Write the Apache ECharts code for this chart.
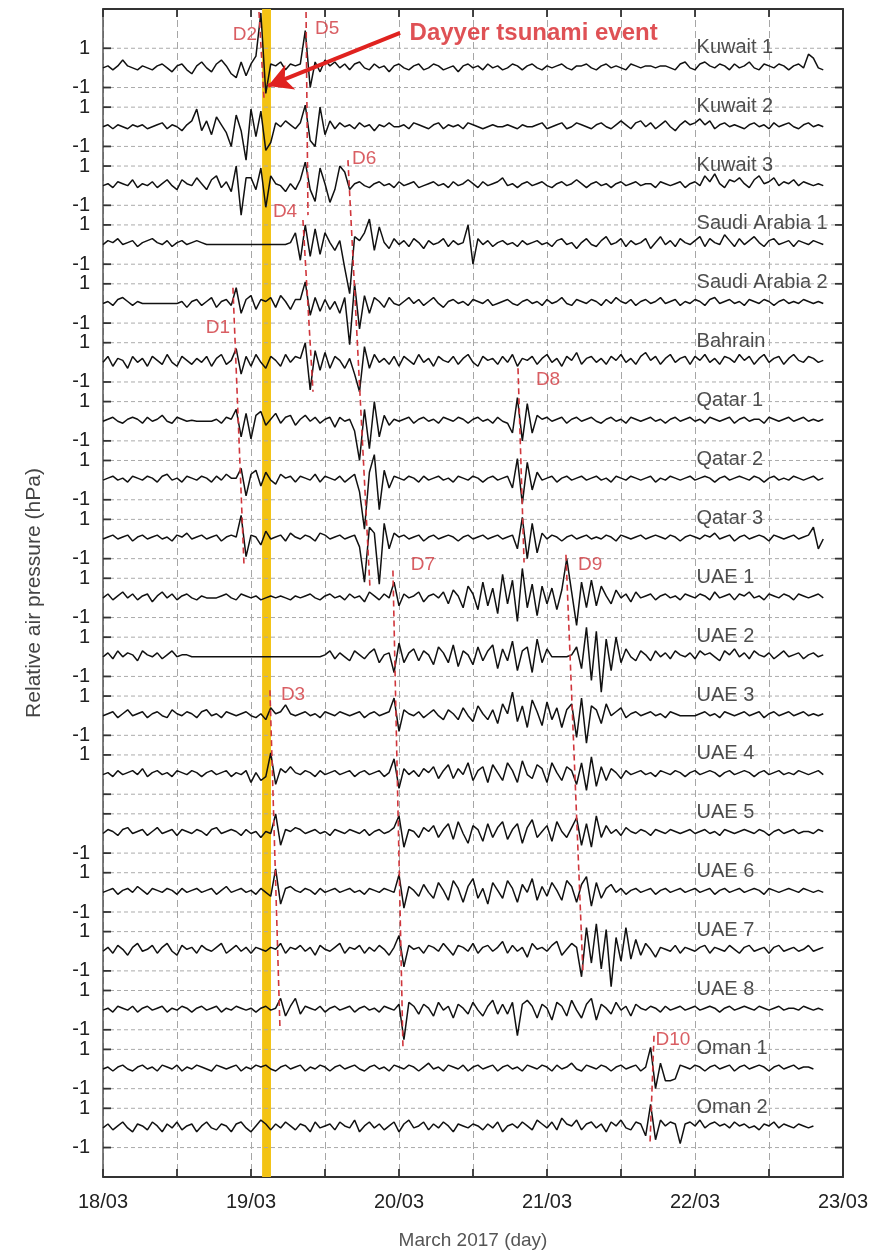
<!DOCTYPE html>
<html>
<head>
<meta charset="utf-8">
<title>Relative air pressure, March 2017</title>
<script src="https://cdn.jsdelivr.net/npm/echarts@6/dist/echarts.min.js"></script>
<style>
  html, body { margin: 0; padding: 0; background: #ffffff; }
  #chart { width: 894px; height: 1252px; }
</style>
</head>
<body>
<div id="chart"></div>
<script>
// Sampling of every trace: one value every 48 minutes, starting 18/03 00:00 (axis unit = days).
const SAMPLE_STEP_DAYS = 1 / 30;
// Vertical distance between trace baselines, in hPa.
const STATION_SPACING = 3;

const DAY_TICK_LABELS = ['18/03', '19/03', '20/03', '21/03', '22/03', '23/03'];

const STATIONS = ['Kuwait 1', 'Kuwait 2', 'Kuwait 3', 'Saudi Arabia 1', 'Saudi Arabia 2', 'Bahrain',
  'Qatar 1', 'Qatar 2', 'Qatar 3', 'UAE 1', 'UAE 2', 'UAE 3', 'UAE 4', 'UAE 5', 'UAE 6', 'UAE 7',
  'UAE 8', 'Oman 1', 'Oman 2'];

// Tick labels written next to the +1 / -1 hPa lines of each station.
const STATION_TICK_LABELS = [['1', '-1'], ['1', '-1'], ['1', '-1'], ['1', '-1'], ['1', '-1'], ['1', '-1'],
  ['1', '-1'], ['1', '-1'], ['1', '-1'], ['1', '-1'], ['1', '-1'], ['1', '-1'], ['1', ''], ['', '-1'],
  ['1', '-1'], ['1', '-1'], ['1', '-1'], ['1', '-1'], ['1', '-1']];

// Relative air pressure (hPa) per station.
const KUWAIT_1 = [0,0.1,-0.1,0.1,0.4,0.1,0,-0.1,0.1,0, -0.1,0.1,0.2,0,-0.2,0.1,0.2,-0.1,-0.3,0.1,
  0.3,0,-0.2,0.2,0.4,0.1,-0.3,-0.5,0.3,-0.4, 0.2,0.6,2.8,-1.3,0.2,0.1,0.3,-0.1,0.2,0.1,
  0.2,1.9,-1.0,0.3,-0.2,0.4,0.1,0.3,0,0.2, -0.1,0.2,0.3,0,-0.1,0.2,0,0.1,-0.2,0.1,
  0.2,0,-0.1,0.1,0.2,-0.1,0,0.2,0.1,-0.1, 0,0.1,-0.2,0.1,0.2,0,0.1,-0.1,0.2,0,
  0.1,-0.1,0,0.2,0.1,-0.1,0.1,0.2,0,-0.1, 0.1,0,0.1,0.2,0,-0.1,0.1,0.1,0.2,0,
  -0.1,0.1,0.2,0,0.1,0,-0.1,0.2,0.1,0, 0.1,0.1,0,0.1,0.1,0,-0.1,0.2,0.3,0,
  -0.1,0.2,0.3,0.1,0,0.2,0.1,-0.1,0.2,0, 0.1,0.3,0,-0.1,0.2,0.1,0,0.2,0.1,-0.1,
  0.1,0.2,0,0.7,0.5,0,-0.1];
const KUWAIT_2 = [0,0.1,-0.1,0.1,0,-0.1,0.1,0,0.1,-0.1, 0,0.1,0.2,-0.1,0.1,0,-0.2,0.1,0.3,0.9,
  -0.2,0.3,-0.4,0.5,0.1,-0.3,-1.0,0.6,-0.2,-1.7, 0.9,-0.5,0.8,-1.2,-0.8,0.2,0,0.3,0.1,-0.1,
  0.2,1.1,-0.7,-1.0,1.0,-0.4,0.3,-0.1,0.2,0, 0.1,-0.1,0.2,0,0.1,-0.2,0.1,0,0.2,0,
  0,0.1,-0.1,0.2,0.1,0,-0.1,0.1,0.2,-0.1, 0.1,0,0.1,-0.1,0.2,0.1,0,-0.1,0,0.1,
  0,0,0.1,0,-0.1,0.1,0,0,0.1,0.2, -0.1,0,0.1,0.2,-0.1,0,0.2,0.1,0,-0.1,
  0.1,0.2,0,-0.1,0.1,0.3,0.1,-0.1,0.2,0.3, 0,0.2,-0.1,0.1,0.3,0,-0.2,0.1,0.3,0.1,
  0.2,0.4,0.1,0.3,-0.1,0.1,0.2,0,0.1,0, -0.1,0.1,0.2,0,0.1,-0.1,0.2,0,0.1,0.2,
  0,-0.1,0.1,0.2,0,0.1,0];
const KUWAIT_3 = [0,0.1,-0.1,0.2,0.1,0,0.3,-0.1,0.1,0, 0.2,-0.1,0.1,0.3,0,-0.2,0.3,0.1,0,0.4,
  0.1,-0.2,0.3,0.5,-0.1,0.2,-0.3,1.0,-1.5,0.4, 0.4,-0.2,0.9,-1.1,0.5,0.1,0,-0.3,0.1,-0.2,
  0.3,1.2,-0.2,-0.8,0.9,0.1,-0.85,-0.2,1.0,0.7, -0.2,0.1,0.2,0,-0.1,0.1,0.2,0,0.1,-0.1,
  0.2,0,0.1,0.2,-0.1,0,0.1,0.2,0,0.1, -0.1,0.2,0,0.1,0.3,0.1,-0.1,0.2,0,0.1,
  0.2,0.4,0,0.1,-0.1,0.1,0.2,0,0.1,0.2, 0,-0.1,0.1,0.2,0,0.1,0.3,0.1,-0.1,0.1,
  0.2,0,0.1,-0.1,0.1,0.2,0,0.1,0.2,0, 0.1,0.1,-0.1,0.2,0.1,0,0.1,0.2,-0.1,0.1,
  0.2,0,0.5,0.2,0.6,0.1,-0.1,0.3,0.2,0.4, 0.1,-0.1,0.3,0.5,0.1,0.2,0.4,0,0.2,0.1,
  0.3,0,0.2,0.1,0,0.1,0];
const SAUDI_ARABIA_1 = [0,0.2,0.1,0.3,0,0.1,0.2,-0.1,0.1,0.2, 0.3,0.1,0,0.2,-0.1,0.1,0.2,0,0.1,0.2,
  0.1,0,0,0,0,0,0,0,0,0, 0,0,0,0,0,0,0,0,0.1,0.6,
  -0.8,1.0,-0.6,0.8,-0.5,0.6,0.1,-0.3,0.2,-1.2, -2.5,0.4,0.2,0.6,1.3,-0.3,0.9,0.1,-0.2,0.3,
  0,0.2,-0.1,0.3,0.1,-0.2,0.2,0,0.1,0.3, -0.1,0.2,0,0.1,1.0,-1.0,0.3,0,0.2,-0.1,
  0.1,0.2,0,0.1,-0.1,0.2,0,0.1,0.2,0, 0.1,-0.1,0.2,0.3,0,0.1,-0.2,0.1,0.3,0,
  -0.1,0.2,0.4,0,0.1,0.3,-0.1,0.2,0,0.1, 0.3,-0.2,0.1,0.4,0,0.2,-0.1,0.3,0.1,0,
  0.2,0.4,-0.1,0.3,0.1,0,0.5,0.2,-0.1,0.3, 0,0.2,0.4,0.1,-0.1,0.2,0.3,0,0.1,0.2,
  -0.1,0.2,0.1,0,0.2,0.1,0];
const SAUDI_ARABIA_2 = [0,0.1,-0.1,0.2,0.3,0.1,-0.1,0.1,0,0, 0,0,0,0,0,0,0.1,-0.2,0.1,0.2,
  -0.1,0.1,0.3,-0.2,0.1,0.2,-0.1,0.8,-0.5,0.2, 0.4,-0.3,0.2,0.1,0.3,-0.2,0.4,0.1,-0.3,0.2,
  0.2,1.1,-0.6,0.3,-0.4,0.2,-0.3,0.1,-0.5,0.3, -2.1,1.0,-1.3,0.4,-0.5,0.3,0.1,-0.2,0.3,0,
  -0.1,0.1,0.3,0,0.2,-0.1,0.1,0.3,0,-0.2, 0.1,0.2,0,0.1,-0.1,0.2,0.1,0,0.2,-0.1,
  0,0.1,0.2,0,-0.1,0.1,0.2,0,0.1,-0.1, 0.2,0,0.1,0.3,0,-0.1,0.2,0.1,0,0.2,
  0.1,-0.1,0.2,0,0.3,0.1,0,0.2,-0.1,0.1, 0.2,0,0.1,0.3,0,0.1,0.2,-0.1,0.1,0,
  0.2,0.1,-0.1,0.2,0.3,0,0.1,0.2,0,0.1, -0.1,0.2,0.1,0,0.2,0.1,-0.1,0.1,0.2,0,
  0.1,0,0.2,0.1,0,0.1,0];
const BAHRAIN = [0,0.3,-0.2,0.2,0.1,-0.3,0.3,0,0.2,-0.2, 0.3,0.1,-0.1,0.4,0,-0.2,0.3,0.1,-0.1,0.2,
  0,0.3,-0.2,0.2,0.4,-0.1,0.1,0.7,-0.6,0.3, -0.2,0.4,0,-0.3,0.3,0.1,-0.2,0.4,0,0.3,
  0.2,1.0,-1.4,0.6,-0.4,0.5,-0.3,0.3,0.1,-0.3, 0.2,-0.6,-1.5,0.8,-0.3,0.4,0,0.2,-0.1,0.3,
  -0.2,0.3,0.1,-0.1,0.4,0,0.2,-0.2,0.3,0.1, 0,0.3,-0.1,0.2,0.4,0,-0.2,0.3,0.1,0.2,
  -0.1,0.3,0,0.4,-0.2,0.2,0.1,0.3,-0.1,0.2, 0.4,0,0.2,-0.2,0.3,0.1,0.5,-0.1,0.2,0.3,
  0,0.2,-0.1,0.3,0.1,0.4,0,0.2,-0.1,0.3, 0.5,0.1,0.3,-0.1,0.2,0.4,0,0.2,0.3,-0.1,
  0.3,0.1,0.4,0,0.2,-0.1,0.3,0.2,0,0.4, 0.1,0.3,-0.1,0.2,0.4,0,0.2,0.3,-0.1,0.2,
  0.4,0.1,0,0.3,0.2,0,0.1];
const QATAR_1 = [0,0.1,0.2,0,-0.1,0.1,0.2,0.1,-0.1,0.2, 0,0.1,0.3,0,-0.1,0.2,0.1,0,0.05,0,
  0,0,0,0.1,-0.1,0.2,0.1,0.6,-0.8,0.4, -0.9,0.3,0.5,-0.2,0.1,0.4,-0.1,0.2,0.3,-0.2,
  0.1,0.3,0,0.2,-0.1,0.1,0.2,-0.3,0.2,0, 0.1,-0.5,-2.0,0.6,-1.4,1.0,-0.8,0.3,-0.2,0.1,
  0,0.1,0.2,-0.1,0.1,0.2,0,0.1,-0.1,0.2, 0.1,0,0.2,0.1,-0.1,0.1,0.2,0,0.1,-0.1,
  0.2,0,-0.1,-0.6,1.2,-1.0,0.9,-0.6,0.3,0.1, 0.2,0,0.1,0.2,-0.1,0.1,0.2,0,0.1,0.2,
  0,-0.1,0.1,0.2,0,0.1,-0.1,0.2,0.1,0, 0.1,0.2,0,0.1,-0.1,0.1,0.2,0,0.1,0.2,
  0,0.1,-0.1,0.2,0.1,0,0.1,0.2,-0.1,0.1, 0.2,0,0.1,0.1,-0.1,0.2,0.1,0,0.1,0.2,
  0,0.1,0.2,0,0.1,0,0.1];
const QATAR_2 = [0,0.1,0.2,0,0.1,-0.1,0.2,0.1,0,0.2, 0.1,-0.1,0.2,0.3,0,0.1,-0.1,0.2,0.1,0,
  0.2,0.1,-0.1,0.2,0,0.3,0.1,0.1,0.6,-0.8, 0.3,0.5,-0.3,0.4,0,-0.2,0.3,0.1,0.2,-0.1,
  0.2,0.1,0,0.3,-0.1,0.2,0.1,0,0.2,-0.1, 0.1,0.3,-0.6,-2.5,0.4,1.3,-1.5,0.5,-0.4,0.2,
  0.1,0,0.2,0.1,-0.1,0.2,0,0.1,0.2,0, 0.1,-0.1,0.2,0.1,0,0.2,0.1,-0.1,0.1,0.2,
  0,0.1,0.2,-0.4,1.1,-1.2,0.9,-0.5,0.4,0, 0.1,0.2,-0.1,0.1,0.2,0,0.1,0.2,0,0.1,
  0.2,0,0.1,-0.1,0.2,0.1,0,0.2,0.1,0, 0.1,0.2,-0.1,0.1,0,0.2,0.1,0,0.1,0.2,
  0,0.1,0.2,0.1,-0.1,0.1,0.2,0,0.1,0.2, 0.1,0,0.2,0.1,-0.1,0.1,0.2,0,0.1,0,
  0.2,0.1,0,0.1,0.2,0,0.1];
const QATAR_3 = [0,0.1,0.2,0,0.1,0.2,-0.1,0.1,0.2,0, 0.1,0.2,0,0.1,-0.1,0.2,0.1,0.3,0,0.1,
  0.2,0,0.1,0.2,-0.1,0.1,0.2,0.1,1.2,-0.9, 0.2,0.1,-0.3,0.4,0,0.1,0.2,-0.1,0.3,0.1,
  0,0.2,0.1,-0.1,0.3,0.2,0,0.1,0.2,0, 0.1,0.2,-0.4,-2.2,0.6,0.3,-2.3,0.8,-0.5,0.3,
  0.1,0.2,0,0.1,0.2,-0.1,0.1,0.2,0,0.1, 0.2,0.1,-0.1,0.1,0.2,0,0.1,0.2,0,0.1,
  0.2,0,0.1,0.2,-0.5,1.1,-1.0,0.8,-0.7,0.3, 0,0.2,0.1,-0.1,0.1,0.2,0,0.1,0.2,0,
  0.1,0,0.2,0.1,-0.1,0.2,0.1,0,0.1,0.2, 0,0.1,0.2,0.1,0,0.2,0.1,-0.1,0.1,0.2,
  0.1,0,0.2,0.1,0.3,0,0.1,0.2,-0.1,0.1, 0.2,0,0.1,0.2,0.1,-0.1,0.2,0.1,0,0.1,
  0.2,0,0.1,0.2,0.6,-0.5,0];
const UAE_1 = [0,0.2,-0.1,0.1,0.3,0,0.2,-0.1,0.1,0.2, -0.2,0.1,0.3,0,0.2,-0.1,0.1,0.2,0,-0.1,
  0.1,0,0,0,0.1,0.2,0,-0.1,0.2,0.1, 0,0.1,-0.1,0,0.1,0,0.1,0,-0.1,0.1,
  0,0.1,0.2,0,-0.1,0.1,0.2,0,0.1,-0.1, 0.2,0,0.1,-0.2,0.3,0.1,-0.1,0.2,0,0.8,
  -0.4,0.2,0,0.1,0.3,-0.2,0.1,0.2,0,0.3, -0.3,0.4,0.1,-0.5,0.6,0.2,-0.6,0.8,-0.4,0.5,
  -0.8,1.2,-0.3,0.9,-1.2,1.5,-0.5,0.7,-0.9,0.6, -0.3,0.5,-0.6,0.4,2.0,0.3,-1.4,0.8,-0.5,0.9,
  -0.4,0.6,0.1,-0.3,0.4,0,0.2,-0.2,0.3,0, 0.1,0.2,-0.1,0.1,0.2,0,0.1,-0.1,0.2,0.1,
  0,0.2,0.1,-0.1,0.3,0,0.1,0.2,-0.1,0.2, 0.1,0.3,0,0.1,-0.1,0.2,0.1,0,0.2,0.1,
  -0.1,0.2,0.1,0,0.1,0.2,0];
const UAE_2 = [0,0.2,-0.1,0.3,0,0.2,0.1,-0.2,0.3,0.1, 0,0.2,-0.1,0.1,0.3,0,0.1,0.1,0,0,
  0,0,0,0,0,0,0,0,0,0, 0,0,0,0,0,0,0,0,0,0,
  0,0,0,0,0,0.1,0.3,-0.1,0.2,0, -0.2,0.3,0.1,-0.1,0.2,0.4,-0.3,0.1,0.2,-0.8,
  0.7,-0.3,0.2,0.4,-0.2,0.3,0.1,-0.4,0.5,0.2, -0.3,0.6,-0.5,0.3,0.1,-0.4,0.5,-0.2,0.3,0.6,
  -0.6,0.4,-0.2,0.8,-0.7,0.3,0.5,-0.8,0.9,-0.3, 0.4,0,0,0,0,0.1,0.5,-0.6,1.5,-1.2,
  1.3,-1.8,0.9,-0.7,1.0,-0.3,0.4,0,-0.2,0.3, 0.1,-0.2,0.3,0,0.2,-0.1,0.3,0.1,0,0.2,
  -0.1,0.3,0.1,0.2,0,-0.2,0.3,0.1,0.4,0, 0.2,-0.1,0.3,0.1,0,0.2,-0.1,0.1,0.3,0,
  0.1,0.2,-0.1,0.1,0.2,0,0.1];
const UAE_3 = [0,0.1,0.2,-0.1,0.1,0.3,0,0.1,0.2,-0.1, 0.1,0.2,0,-0.1,0.3,0.1,0,0.2,0.1,-0.1,
  0.2,0.3,0,0.1,-0.1,0.2,0.1,0,0.1,0.2, 0,-0.1,0.1,-0.2,0.4,0.1,0.2,0.55,0.1,0,
  0.1,0.2,0,0.1,-0.1,0.2,0.1,0,0.2,0.1, 0,0.1,0.2,-0.1,0.1,0.2,0,0.1,0.2,0.9,
  -0.8,0.3,0.1,0,0.2,-0.1,0.1,0.3,0,-0.2, 0.3,0.1,-0.2,0.4,0,-0.3,0.5,0.1,-0.2,0.3,
  -0.4,0.6,0.1,1.2,-0.3,0.5,-0.6,0.8,0.2,-0.5, 0.7,-0.2,0.4,-0.6,0.3,0.6,-1.1,0.9,-1.4,0.5,
  0.3,-0.4,0.6,0,0.2,0.4,-0.1,0.1,0.2,0, 0.1,0.2,0,0.1,-0.1,0.2,0.1,0,0,0,
  0,0.1,0.2,0,0.1,-0.1,0.2,0.1,0,0.1, 0.2,0,0.1,0.2,-0.1,0.1,0.2,0,0.1,0.2,
  0,0.1,0.2,0,0.1,0,0.1];
const UAE_4 = [0,0.1,-0.1,0.2,0,0.1,0.2,0,0.3,-0.1, 0.1,0.2,0,0.1,-0.1,0.2,0.1,0,0.2,0.1,
  -0.1,0.1,0.2,0,0.1,0.2,-0.1,0.1,0,0.2, -0.4,0.1,-0.3,-0.1,1.1,-0.5,0.3,0.1,0.4,0.1,
  0,0.2,0.1,-0.1,0.2,0,0.1,0.2,0,0.1, 0.2,-0.1,0.1,0.2,0,0.1,0.2,-0.1,0.1,0.8,
  -0.7,0.3,0,0.2,-0.1,0.3,0.1,0.4,-0.2,0.2, 0.5,-0.2,0.3,0,0.6,-0.3,0.2,0.4,-0.4,0.5,
  0.1,-0.3,0.6,0.2,-0.4,0.7,0,-0.2,0.5,0.3, -0.4,0.6,0.1,-0.3,0.4,0.2,-0.5,0.6,-0.8,0.9,
  -0.6,0.4,-0.3,0.3,0.1,-0.2,0.2,0,0.1,0.2, 0,0.1,-0.1,0.2,0.1,0,0.2,0.1,-0.1,0.1,
  0.2,0,0.1,0.2,0.1,-0.1,0.1,0.2,0,0.1, 0.2,0.1,-0.1,0.1,0.2,0,0.1,0.2,0,0.1,
  0,0.2,0.1,0,0.1,0.2,0];
const UAE_5 = [0,0.2,0.1,-0.1,0.2,0.3,0,0.1,0.2,-0.1, 0.1,0.3,0,0.1,0.2,-0.1,0.2,0.1,0,0.2,
  0.1,-0.1,0.2,0.3,0,0.1,0.2,0.1,-0.1,0.2, 0,0.1,-0.2,0.1,0,1.0,-0.6,0.2,0.1,0.3,
  0.2,0,0.1,0.2,0,0.1,-0.1,0.2,0.1,0, 0.2,0.1,0,0.2,-0.1,0.1,0.2,0,0.1,0.3,
  0.9,-0.7,0.2,0.1,-0.2,0.3,0.1,0.4,-0.2,0.2, 0.5,-0.3,0.6,0,-0.5,0.4,0.2,-0.4,0.5,-0.2,
  0.3,0.6,-0.3,0.2,0.5,-0.5,0.3,0.7,-0.2,0.1, 0.4,-0.4,0.6,0.1,-0.2,0.3,0.8,-0.6,0.5,-0.7,
  0.9,-0.2,0.4,0,0.2,-0.1,0.3,0.1,0,0.2, 0.1,-0.1,0.2,0.1,0,0.2,0.1,0,0.1,0.2,
  0,0.1,0.2,0,0.1,-0.1,0.2,0.1,0,0.1, 0.2,0.1,0,0.2,0.1,-0.1,0.1,0.2,0,0.1,
  0.2,0,0.1,0.1,0,0.2,0.1];
const UAE_6 = [0,0.1,0.2,-0.1,0.1,0.2,0,0.3,0.1,-0.1, 0.2,0.1,0,0.2,0.1,-0.1,0.2,0,0.1,0.2,
  0,0.1,0.2,-0.1,0.1,0.3,0,0.1,0.2,0, 0.1,-0.1,0.2,0,-0.2,1.2,-0.6,0.2,0.3,0.1,
  0,0.2,0.1,-0.1,0.2,0,0.1,0.2,0,0.1, 0.2,0,0.1,-0.1,0.2,0.1,0,0.2,0.1,0,
  0.9,-0.8,0.3,0.1,-0.2,0.4,0,-0.3,0.5,0.1, -0.4,0.6,0.2,-0.5,0.3,0.7,-0.3,0.2,-0.6,0.5,
  0.1,-0.3,0.6,0.2,-0.5,0.4,0,0.7,-0.4,0.3, -0.2,0.5,0.1,-0.4,0.6,0.3,-0.5,0.4,0.8,-0.7,
  0.5,-0.3,0.2,0.4,0,0.2,-0.1,0.1,0.2,0, 0.1,0.2,-0.1,0.1,0.2,0,0.1,0.2,0,0.1,
  0.2,0,0.1,0.2,-0.1,0.1,0.2,0,0.1,0.2, 0,0.1,0.2,0.1,-0.1,0.2,0.1,0,0.1,0.2,
  0.1,0,0.2,0.1,0,0.1,0];
const UAE_7 = [0,0.2,-0.1,0.3,0.1,-0.2,0.2,0.4,0,0.1, 0.3,-0.1,0.2,0.4,0,-0.2,0.3,0.1,0.2,-0.1,
  0.3,0.1,0,0.2,0.4,-0.1,0.1,0.3,0,0.2, -0.1,0.2,0.1,0,0.2,0.1,0.4,-0.1,0.2,0.1,
  0.3,0,0.2,-0.2,0.3,0.1,0,0.2,0.4,-0.1, 0.2,0.1,0.3,-0.1,0.2,0,0.3,0.1,-0.2,0.2,
  0.8,-0.8,0.3,0.1,0.2,-0.1,0.3,0.2,0,0.4, 0.1,-0.2,0.3,0.2,0,0.4,-0.1,0.2,0.3,0,
  0.2,0.5,-0.1,0.3,0,0.2,-0.3,0.4,0.1,0.2, 0,0.3,0.5,-0.2,0.1,0.4,0.2,-1.3,1.2,-0.6,
  1.4,-0.9,1.1,-1.8,0.7,-0.5,1.2,-0.4,0.6,-0.2, 0.4,0.1,-0.3,0.2,0.1,0,0.3,-0.1,0.2,0.1,
  0,0.2,0.3,-0.1,0.2,0.1,0,0.3,0.1,-0.1, 0.2,0.3,0,0.1,0.2,-0.1,0.2,0.3,0,0.1,
  0.2,0,0.1,0.3,0,0.1,0.2];
const UAE_8 = [0,0.1,-0.1,0.2,0.1,0,0.2,-0.1,0.1,0.2, 0,0.1,0.2,-0.1,0.1,0,0.2,0.1,-0.1,0.1,
  0.2,0,0.1,0.2,-0.1,0.1,0,0.2,0.1,0, 0.1,-0.1,0.1,0.2,0,0.1,0.6,-0.3,0.2,0.6,
  -0.2,0.2,0.1,0,0.2,-0.1,0.1,0.2,0,0.1, 0.2,-0.1,0.1,0.2,0,0.1,-0.1,0.2,0.1,0,
  0.3,-1.5,0.4,0.2,-0.2,0.3,0.1,-0.3,0.4,0, 0.2,-0.4,0.3,0.1,-0.2,0.4,0,-0.3,0.2,0.5,
  -0.2,0.3,-0.2,0.4,-1.3,0.3,0.5,0.2,-0.4,0.3, 0.1,-0.5,0.4,0.2,-0.3,0.5,0,-0.4,0.3,0.6,
  -0.5,0.3,0.1,-0.2,0.4,0,0.2,-0.3,0.3,0.1, 0,0.2,0.1,-0.1,0.2,0,0.1,0.2,0,0.1,
  0.2,0,0.1,0.2,0.1,-0.1,0.1,0.2,0,0.1, 0.2,0.1,0,0.2,0.1,0,0.1,0.2,0,0.1,
  0.1,0,0.2,0.1,0,0.1,0];
const OMAN_1 = [0,0.1,-0.1,0.1,0.2,0,-0.1,0.1,0.2,0, 0.1,-0.1,0.2,0.1,0,0.2,-0.1,0.1,0,0.2,
  0.1,0,-0.1,0.2,0.1,0,0.1,0.2,-0.1,0.1, 0,0.2,0.1,0.2,0,-0.1,0.1,0.2,0,0.1,
  0.2,-0.1,0.1,0,0.2,0.1,-0.1,0.1,0.2,0, 0.1,0.2,0,-0.1,0.1,0.2,0,0.1,-0.1,0.2,
  0.1,0,0.2,0.1,-0.1,0.1,0.3,0,0.1,-0.1, 0.2,0.1,0,0.2,-0.1,0.1,0.2,0,0.1,0.2,
  -0.1,0.1,0.2,0,0.1,-0.1,0.2,0.1,0,0.2, 0.1,-0.1,0.2,0,0.1,0.3,0,-0.1,0.2,0.1,
  0,0.2,0.1,-0.1,0.1,0.2,0,0.1,0.2,-0.1, 0.1,1.1,-1.0,0.3,-0.6,-0.6,-0.5,0.2,0.1,0,
  0.2,0.1,-0.1,0.1,0.2,0,0.1,0.2,-0.1,0.1, 0.2,0,0.1,0.2,0.1,-0.1,0.1,0.2,0,0.1,
  0.2,0,0.1,0.1,0];
const OMAN_2 = [0,0.2,-0.1,0.1,0.3,0,-0.2,0.2,0.1,-0.1, 0.3,0.1,-0.2,0.2,0,0.3,-0.1,0.1,0.2,-0.2,
  0.1,0.3,0,-0.1,0.2,0.1,-0.2,0.2,0.3,0, -0.2,0.1,0.4,0.2,-0.1,0.2,0,0.3,0.1,-0.1,
  0.2,0.1,-0.2,0.3,0,0.1,0.2,-0.1,0.3,0.1, 0,0.4,-0.2,0.1,0.3,0,0.2,-0.1,0.1,0.3,
  -0.2,0.2,0.4,0,0.1,0.3,-0.1,0.2,0,0.3, 0.1,-0.2,0.2,0.1,0,0.2,0.1,-0.1,0.2,0,
  0.3,-0.2,0.1,0.2,0,0.3,0.1,-0.1,0.4,0.2, 0,0.3,-0.1,0.5,0.2,0.1,0.4,-0.1,0.2,0.3,
  0,0.2,-0.2,0.3,0.1,0.4,0,-0.1,0.3,0.2, -0.4,1.2,-0.6,0.4,0.1,0.3,0.2,-0.8,0.2,0.3,
  0.1,0.4,0,0.2,0.3,0.1,0.2,0,0.3,0.1, 0.2,0,0.1,-0.1,0.2,0.1,0.3,0,0.2,0.1,
  0,0.2,0.1,0,0.1];

const TRACES = [KUWAIT_1, KUWAIT_2, KUWAIT_3, SAUDI_ARABIA_1, SAUDI_ARABIA_2, BAHRAIN,
  QATAR_1, QATAR_2, QATAR_3, UAE_1, UAE_2, UAE_3, UAE_4, UAE_5, UAE_6, UAE_7, UAE_8, OMAN_1, OMAN_2];

// Dayyer tsunami window (days after 18/03 00:00).
const TSUNAMI_WINDOW = [1.075, 1.135];
const TSUNAMI_TEXT = 'Dayyer tsunami event';
const TSUNAMI_TEXT_AT = [2.068, 1.78];
const TSUNAMI_ARROW_FROM = [2.007, 1.78];
const TSUNAMI_ARROW_TO = [1.115, -0.92];

// Propagating disturbances: dashed path [day, stacked offset] and label anchor.
const EVENT_NAMES = ['D1', 'D2', 'D3', 'D4', 'D5', 'D6', 'D7', 'D8', 'D9', 'D10'];
const EVENT_FROM = [[0.878, -11.2], [1.054, 2.85], [1.128, -31.7], [1.351, -7.75], [1.372, 2.85],
  [1.655, -4.7], [1.959, -25.6], [2.804, -15.3], [3.128, -24.8], [3.723, -49.3]];
const EVENT_TO = [[0.953, -25.4], [1.088, -1.6], [1.196, -49.0], [1.419, -16.5], [1.385, -7.5],
  [1.804, -26.5], [2.027, -50.0], [2.845, -25.2], [3.243, -46.1], [3.696, -54.8]];
const EVENT_LABEL_AT = [[0.777, -13.25], [0.959, 1.68], [1.284, -31.95], [1.230, -7.34], [1.514, 1.98],
  [1.764, -4.64], [2.162, -25.32], [3.007, -15.9], [3.291, -25.32], [3.851, -49.52]];

const STATION_LABEL_DAY = 4.007;

const X_MIN = 0, X_MAX = 5;
const Y_MAX = 3;
const Y_MIN = -STATION_SPACING * (STATIONS.length - 1) - 2.5;

const FONT = "'Liberation Sans', Arial, Helvetica, sans-serif";
const EVENT_RED = '#cf363c';
const FRAME = '#333333';

function baselineOf(k) { return -STATION_SPACING * k; }

// +1 / -1 hPa reference lines of every station
const gridRows = [];
STATIONS.forEach((_, k) => {
  gridRows.push([X_MIN, baselineOf(k) + 1]);
  gridRows.push([X_MIN, baselineOf(k) - 1]);
});

function yTickLabel(v) {
  if (!Number.isInteger(v)) return '';
  for (let k = 0; k < STATIONS.length; k++) {
    if (v === baselineOf(k) + 1) return STATION_TICK_LABELS[k][0];
    if (v === baselineOf(k) - 1) return STATION_TICK_LABELS[k][1];
  }
  return '';
}

function renderGridRow(params, api) {
  const v = api.value(1);
  const a = api.coord([X_MIN, v]);
  const b = api.coord([X_MAX, v]);
  return {
    type: 'group',
    children: [
      { type: 'line', shape: { x1: a[0], y1: a[1], x2: b[0], y2: b[1] },
        style: { stroke: '#ababab', lineWidth: 1, lineDash: [4, 3] } },
      { type: 'line', shape: { x1: a[0], y1: a[1], x2: a[0] + 8, y2: a[1] },
        style: { stroke: FRAME, lineWidth: 1.8 } },
      { type: 'line', shape: { x1: b[0] - 8, y1: b[1], x2: b[0], y2: b[1] },
        style: { stroke: FRAME, lineWidth: 1.8 } }
    ]
  };
}

const traceSeries = TRACES.map((values, k) => ({
  name: STATIONS[k],
  type: 'line',
  data: values.map((v, i) => [i * SAMPLE_STEP_DAYS, baselineOf(k) + v]),
  showSymbol: false,
  symbol: 'none',
  lineStyle: { color: '#111111', width: 1.5 },
  z: 4,
  silent: true
}));

const frameLine = { show: true, onZero: false, lineStyle: { color: FRAME, width: 2 } };

const option = {
  animation: false,
  backgroundColor: '#ffffff',
  textStyle: { fontFamily: FONT },
  grid: { left: 103, right: 51, top: 9, bottom: 75, outerBoundsMode: 'none' },
  xAxis: [
    {
      type: 'value', min: X_MIN, max: X_MAX, interval: 0.5, position: 'bottom',
      name: 'March 2017 (day)', nameLocation: 'middle', nameGap: 54,
      nameTextStyle: { fontSize: 19, color: '#555555', fontFamily: FONT },
      axisLine: frameLine,
      axisTick: { show: true, inside: true, length: 8, lineStyle: { color: FRAME, width: 1.8 } },
      axisLabel: {
        show: true, margin: 15, fontSize: 20, color: '#222222', fontFamily: FONT,
        formatter: v => (Number.isInteger(v) ? DAY_TICK_LABELS[v] : '')
      },
      splitLine: { show: true, lineStyle: { color: '#a6a6a6', width: 1, type: [7, 4] } }
    },
    {
      type: 'value', min: X_MIN, max: X_MAX, interval: 0.5, position: 'top',
      axisLine: frameLine,
      axisTick: { show: true, inside: true, length: 8, lineStyle: { color: FRAME, width: 1.8 } },
      axisLabel: { show: false },
      splitLine: { show: false }
    }
  ],
  yAxis: [
    {
      type: 'value', min: Y_MIN, max: Y_MAX, interval: 0.5, position: 'left',
      name: 'Relative air pressure (hPa)', nameLocation: 'middle', nameGap: 58, nameRotate: 90,
      nameTextStyle: { fontSize: 21, color: '#444444', fontFamily: FONT },
      axisLine: { show: true, onZero: false, lineStyle: { color: '#555555', width: 1.5 } },
      axisTick: { show: false },
      axisLabel: { show: true, margin: 13, fontSize: 20, color: '#222222', fontFamily: FONT, formatter: yTickLabel },
      splitLine: { show: false }
    },
    {
      type: 'value', min: Y_MIN, max: Y_MAX, interval: 0.5, position: 'right',
      axisLine: frameLine,
      axisTick: { show: false },
      axisLabel: { show: false },
      splitLine: { show: false }
    }
  ],
  series: [
    {
      name: 'reference lines',
      type: 'custom',
      renderItem: renderGridRow,
      data: gridRows,
      encode: { x: 0, y: 1 },
      z: 1,
      silent: true,
      markArea: {
        silent: true,
        itemStyle: { color: '#f3c314', opacity: 1 },
        data: [[{ xAxis: TSUNAMI_WINDOW[0] }, { xAxis: TSUNAMI_WINDOW[1] }]]
      }
    },
    ...traceSeries,
    {
      name: 'station labels',
      type: 'scatter',
      symbol: 'circle',
      symbolSize: 1,
      itemStyle: { color: 'rgba(0,0,0,0)' },
      silent: true,
      z: 6,
      data: STATIONS.map((name, k) => ({ name, value: [STATION_LABEL_DAY, baselineOf(k) + 1.05] })),
      label: {
        show: true, position: 'right', distance: 0, formatter: '{b}',
        fontSize: 20, color: '#222222', fontFamily: FONT
      }
    },
    {
      name: 'disturbances',
      type: 'scatter',
      symbol: 'circle',
      symbolSize: 1,
      itemStyle: { color: 'rgba(0,0,0,0)' },
      silent: true,
      z: 7,
      data: EVENT_NAMES.map((name, i) => ({ name, value: EVENT_LABEL_AT[i] })),
      label: {
        show: true, position: 'inside', formatter: '{b}',
        fontSize: 19, color: EVENT_RED, fontFamily: FONT
      },
      markLine: {
        silent: true,
        symbol: 'none',
        label: { show: false },
        lineStyle: { color: EVENT_RED, width: 1.6, type: [6, 4] },
        data: EVENT_NAMES.map((_, i) => [{ coord: EVENT_FROM[i] }, { coord: EVENT_TO[i] }])
      }
    },
    {
      name: 'tsunami annotation',
      type: 'scatter',
      symbol: 'circle',
      symbolSize: 1,
      itemStyle: { color: 'rgba(0,0,0,0)' },
      silent: true,
      z: 8,
      data: [{ name: TSUNAMI_TEXT, value: TSUNAMI_TEXT_AT }],
      label: {
        show: true, position: 'right', distance: 0, formatter: '{b}',
        fontSize: 24, fontWeight: 'bold', color: '#d7262b', fontFamily: FONT
      },
      markLine: {
        silent: true,
        symbol: ['none', 'arrow'],
        symbolSize: [20, 24],
        label: { show: false },
        lineStyle: { color: '#e0221f', width: 4, type: 'solid' },
        data: [[{ coord: TSUNAMI_ARROW_FROM }, { coord: TSUNAMI_ARROW_TO }]]
      }
    }
  ]
};

const chart = echarts.init(document.getElementById('chart'), null, { renderer: 'canvas' });
chart.setOption(option);
</script>
</body>
</html>
